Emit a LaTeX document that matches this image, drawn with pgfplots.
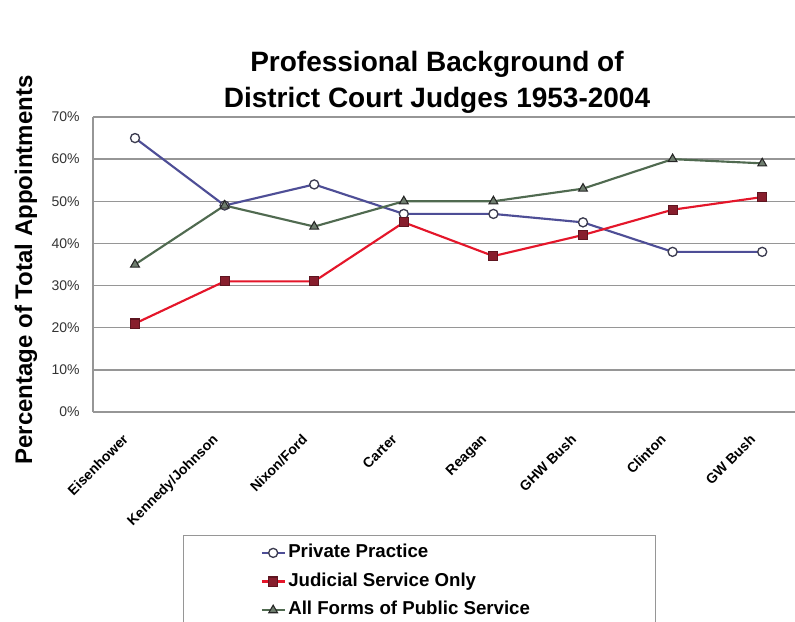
\documentclass[border=0pt]{standalone}
\usepackage{fontspec}
\setmainfont{Liberation Sans}
\usepackage{pgfplots}
\pgfplotsset{compat=1.18}
\definecolor{privline}{RGB}{78,78,150}
\definecolor{privmark}{RGB}{60,60,80}
\definecolor{judline}{RGB}{228,22,42}
\definecolor{judmark}{RGB}{135,30,45}
\definecolor{publine}{RGB}{80,106,80}
\definecolor{pubmark}{RGB}{110,125,110}
\definecolor{gridc}{RGB}{150,150,150}
\begin{document}
\begin{tikzpicture}
\path[use as bounding box] (-69.75pt,-156.75pt) rectangle (526.5pt,309pt);
\begin{axis}[
  name=ax,
  at={(0pt,0pt)}, anchor=south west,
  scale only axis,
  width=526.5pt, height=221.25pt,
  xmin=-0.469, xmax=7.366,
  ymin=0, ymax=70,
  clip=false,
  axis lines*=left,
  axis line style={draw=gridc, line width=1.4pt, -},
  ytick={0,10,...,70},
  yticklabel={\pgfmathprintnumber{\tick}\%},
  /pgf/number format/assume math mode=true,
  yticklabel style={font=\fontsize{10.5}{12}\selectfont, text=black!80, xshift=-6.5pt},
  ymajorgrids,
  grid style={draw=gridc, line width=1.1pt},
  major tick length=6pt,
  tick style={draw=gridc, line width=1pt},
  xtick={0,...,7},
  xticklabels={Eisenhower,Kennedy/Johnson,Nixon/Ford,Carter,Reagan,GHW Bush,Clinton,GW Bush},
  xtick style={draw=none},
  xticklabel style={font=\bfseries\fontsize{10.5}{12}\selectfont, rotate=45, anchor=north east, xshift=-14.8pt, yshift=-0.9pt},
  title={Professional Background of\\District Court Judges 1953-2004},
  title style={font=\bfseries\fontsize{21}{27}\selectfont, align=center, at={(axis description cs:0.49,1.089)}, anchor=center},
  ylabel={Percentage of Total Appointments},
  ylabel style={font=\bfseries\fontsize{18}{20}\selectfont, at={(axis description cs:-0.0954,0.481)}, anchor=center},
  legend style={at={(axis description cs:0.128,-0.417)}, anchor=north west,
    draw=gridc, line width=0.8pt, inner xsep=58pt, inner ysep=4pt,
    font=\bfseries\fontsize{14}{16}\selectfont,
    nodes={text height=10pt, text depth=3pt, inner ysep=2.5pt},
    row sep=3.5pt},
  legend cell align=left,
]
\addplot[color=privline, line width=1.6pt, mark=*, mark size=3.4pt,
  mark options={fill=white, draw=privmark, line width=1pt}]
  coordinates {(0,65)(1,49)(2,54)(3,47)(4,47)(5,45)(6,38)(7,38)};
\addlegendentry{Private Practice}
\addplot[color=judline, line width=1.6pt, mark=square*, mark size=3.4pt,
  mark options={fill=judmark, draw=judmark!70!black, line width=0.8pt}]
  coordinates {(0,21)(1,31)(2,31)(3,45)(4,37)(5,42)(6,48)(7,51)};
\addlegendentry{Judicial Service Only}
\addplot[color=publine, line width=1.6pt, mark=triangle*, mark size=3.8pt,
  mark options={fill=pubmark, draw=black!85, line width=0.8pt}]
  coordinates {(0,35)(1,49)(2,44)(3,50)(4,50)(5,53)(6,60)(7,59)};
\addlegendentry{All Forms of Public Service\hspace*{34pt}}
\end{axis}
\end{tikzpicture}
\end{document}
